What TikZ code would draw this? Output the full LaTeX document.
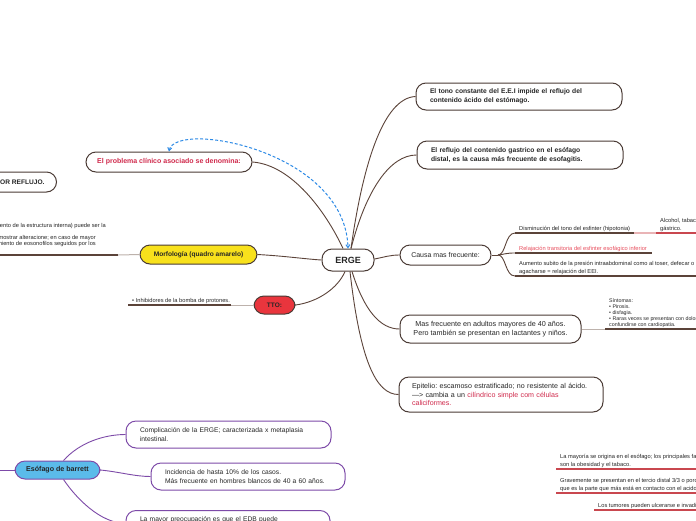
\documentclass[tikz,border=0pt]{standalone}
\usepackage{fontspec}
\setmainfont{Liberation Sans}
\usetikzlibrary{arrows.meta}
\frenchspacing
\definecolor{bord}{HTML}{4A3B35}
\definecolor{cbrown}{HTML}{5B4339}
\definecolor{clight}{HTML}{BDB2AC}
\definecolor{txt}{HTML}{262626}
\definecolor{redt}{HTML}{D02A4C}
\definecolor{pinkt}{HTML}{E8505F}
\definecolor{yel}{HTML}{F8E11C}
\definecolor{ttored}{HTML}{E9353D}
\definecolor{bblue}{HTML}{5BBBEA}
\definecolor{purp}{HTML}{7D4AA8}
\definecolor{ulred}{HTML}{C9474F}
\definecolor{ulpink}{HTML}{E9B4B6}
\definecolor{dashblue}{HTML}{2D8AE6}
\begin{document}
\begin{tikzpicture}[x=1pt,y=-1pt,
  box/.style={draw=bord, line width=1pt, rounded corners=10pt, fill=white, text=txt, inner sep=0pt, align=center},
  lbox/.style={box, align=left},
  conn/.style={draw=cbrown, line width=0.9pt},
  lconn/.style={draw=clight, line width=1pt},
  pconn/.style={draw=purp, line width=0.9pt},
  ul/.style={draw=cbrown, line width=1.5pt},
  ulr/.style={draw=ulred, line width=1.5pt},
  leaf/.style={inner xsep=4pt, inner ysep=1.6pt, text=txt, align=left, font=\fontsize{5.7}{7.1}\selectfont},
  bfont/.style={font=\bfseries\fontsize{6.7}{8.8}\selectfont}
]
\useasboundingbox[fill=white] (0,0) rectangle (696,520);

% ---------- main nodes ----------
\node[box, minimum width=52pt, minimum height=22pt, font=\bfseries\fontsize{9}{10}\selectfont] (erge) at (348,260) {ERGE};

\node[lbox, bfont, minimum width=206pt, minimum height=27pt, text width=178pt, inner xsep=14pt] (tono) at (519,96.5)
  {El tono constante del E.E.I impide el reflujo del\\contenido ácido del estómago.};
\node[lbox, bfont, minimum width=206pt, minimum height=28pt, text width=178pt, inner xsep=14pt] (reflujo) at (520,155)
  {El reflujo del contenido gastrico en el esófago\\distal, es la causa más frecuente de esofagitis.};
\node[box, font=\fontsize{7}{8.5}\selectfont, minimum width=91pt, minimum height=20pt] (causa) at (445.5,255) {Causa mas frecuente:};
\node[box, font=\fontsize{7.2}{8.4}\selectfont, minimum width=181pt, minimum height=28pt] (mas) at (490.5,329)
  {Mas frecuente en adultos mayores de 40 años.\\Pero también se presentan en lactantes y niños.};
\node[lbox, font=\fontsize{7.1}{8.2}\selectfont, minimum width=204pt, minimum height=35pt, text width=178pt, inner xsep=13pt] (epi) at (501,394.5)
  {Epitelio: escamoso estratificado; no resistente al ácido.\\—> cambia a un \textcolor{redt}{cilíndrico simple com células}\\\textcolor{redt}{caliciformes.}};

\node[box, minimum width=166pt, minimum height=20pt, text=redt, font=\bfseries\fontsize{7}{8}\selectfont] (problema) at (169,162)
  {El problema clínico asociado se denomina:};
\node[box, anchor=east, minimum height=20pt, inner xsep=12pt, font=\bfseries\fontsize{6.6}{8}\selectfont] (esof) at (57,182)
  {ESOFAGITIS POR REFLUJO.};
\node[box, fill=yel, minimum width=117pt, minimum height=19pt, font=\bfseries\fontsize{6.6}{8}\selectfont] (morf) at (198.5,254.5)
  {Morfología (quadro amarelo)};
\node[box, fill=ttored, minimum width=41pt, minimum height=18pt, font=\bfseries\fontsize{6.5}{8}\selectfont] (tto) at (274.5,305) {TTO:};

% ---------- ERGE connectors ----------
\draw[conn] (erge.north) ++(3,0) coordinate (et1) .. controls (362,170) and (382,98) .. (tono.west);
\draw[conn] (et1) .. controls (366,190) and (390,155) .. (reflujo.west);
\draw[conn] (erge.east) ++(0,-1) coordinate (ee) .. controls (385,257) and (390,255) .. (causa.west);
\draw[conn] (erge.south) ++(4,0) coordinate (es1) .. controls (364,310) and (380,329) .. (mas.west);
\draw[conn] (erge.south) ++(2,0) coordinate (es2) .. controls (360,360) and (376,394.5) .. (epi.west);
\draw[conn] (problema.east) .. controls (292,165) and (326,212) .. ([xshift=-5pt]erge.north);
\draw[conn] (morf.east) .. controls (285,256) and (305,259) .. (erge.west);
\draw[conn] (tto.east) .. controls (318,302) and (338,288) .. ([xshift=-3pt]erge.south);

\draw[dashblue, line width=1pt, dash pattern=on 3pt off 2pt, {Straight Barb[length=3pt,width=4pt]}-{Straight Barb[length=3pt,width=4pt]}]
  (problema.north) .. controls (175,120) and (345,150) .. (erge.north);

% ---------- Causa children ----------
\coordinate (cj) at (498,255);
\draw[conn] (causa.east) -- (cj);
\node[leaf, anchor=south west] (d1) at (515,233) {Disminución del tono del esfinter (hipotonia)};
\node[leaf, anchor=south west, text=pinkt] (d2) at (515,253) {Relajación transitoria del esfinter esofágico inferior};
\node[leaf, anchor=south west] (d3) at (515,276) {Aumento subito de la presión intraabdominal como al toser, defecar o\\agacharse = relajación del EEI.};
\draw[conn] (cj) .. controls (506,255) and (505,233) .. (d1.south west);
\draw[conn] (cj) .. controls (506,254) and (506,253) .. (d2.south west);
\draw[conn] (cj) .. controls (506,255) and (505,276) .. (d3.south west);
\coordinate (d1e) at (634,233);
\coordinate (d2e) at (652,253);
\coordinate (d3e) at (700,276);
\draw[ul] (d1.south west) -- (d1e);
\draw[ul] (d2.south west) -- (d2e);
\draw[ul] (d3.south west) -- (d3e);
\node[leaf, anchor=south west] (alc) at (656,233) {Alcohol, tabaco y\\gástrico.};
\coordinate (alce) at (700,233);
\draw[draw=ulpink, line width=1.5pt] (d1e) -- (alc.south west);
\draw[ulr] (alc.south west) -- (alce);

% ---------- Mas child ----------
\node[leaf, anchor=south west, font=\fontsize{5.3}{6}\selectfont] (sint) at (605,329)
  {Síntomas:\\• Pirosis.\\• disfagia.\\• Raras veces se presentan con dolor torácico y pueden\\confundirse con cardiopatia.};
\coordinate (sinte) at (700,329);
\draw[lconn] (mas.east) -- (sint.south west);
\draw[ul] (sint.south west) -- (sinte);

% ---------- TTO child ----------
\node[leaf, anchor=south west] (ibp) at (128,305) {• Inhibidores de la bomba de protones.};
\coordinate (ibpe) at (231,305);
\draw[lconn] (tto.west) -- (ibpe);
\draw[ul] (ibp.south west) -- (ibpe);

% ---------- Morfologia child ----------
\coordinate (mj) at (118,255);
\coordinate (mstart) at (-5,255);
\draw[lconn] (morf.west) -- (mj);
\draw[ul] (mj) -- (mstart);
\node[leaf, anchor=base east, inner xsep=0pt] (m1) at (106,227) {rompimiento de la estructura interna) puede ser la};
\node[leaf, anchor=base east, inner xsep=0pt] (m2) at (96,239) {puede no mostrar alteracione; en caso de mayor};
\node[leaf, anchor=base east, inner xsep=0pt] (m3) at (96,245.5) {crecimiento de eosonofilos seguidos por los};

% ---------- Barrett ----------
\node[box, draw=purp, fill=bblue, minimum width=85pt, minimum height=18pt, font=\bfseries\fontsize{7.1}{8}\selectfont] (barrett) at (57.5,470)
  {Esófago de barrett};
\node[lbox, draw=purp, font=\fontsize{6.7}{8.6}\selectfont, minimum width=205pt, minimum height=27pt, text width=177pt, inner xsep=14pt] (b1) at (228.5,434.5)
  {Complicación de la ERGE; caracterizada x metaplasia\\intestinal.};
\node[lbox, draw=purp, font=\fontsize{6.7}{8.6}\selectfont, minimum width=194pt, minimum height=27pt, text width=166pt, inner xsep=14pt] (b2) at (248,476.5)
  {Incidencia de hasta 10\% de los casos.\\Más frecuente en hombres blancos de 40 a 60 años.};
\node[lbox, draw=purp, font=\fontsize{6.7}{8.6}\selectfont, minimum width=204pt, minimum height=26pt, text width=176pt, inner xsep=14pt, anchor=north] (b3) at (228,510)
  {La mayor preocupación es que el EDB puede\\evolucionar a adenocarcinoma.};
\coordinate (bl) at (-5,470);
\draw[pconn] (barrett.west) -- (bl);
\draw[pconn] ([xshift=6pt]barrett.north) .. controls (80,442) and (105,434.5) .. (b1.west);
\draw[pconn] (barrett.east) .. controls (120,472) and (135,476.5) .. (b2.west);
\draw[pconn] ([xshift=6pt]barrett.south) .. controls (76,498) and (100,523) .. (b3.west);

% ---------- bottom right ----------
\node[leaf, anchor=south west] (r1) at (556,469) {La mayoría se origina en el esófago; los principales factores\\son la obesidad y el tabaco.};
\node[leaf, anchor=south west] (r2) at (556,493) {Gravemente se presentan en el tercio distal 3/3 o porción\\que es la parte que más está en contacto con el acido.};
\node[leaf, anchor=south west] (r3) at (594,510) {Los tumores pueden ulcerarse e invadir};
\coordinate (r1e) at (700,469);
\coordinate (r2e) at (700,493);
\coordinate (r3e) at (700,510);
\draw[ulr] (r1.south west) -- (r1e);
\draw[ulr] (r2.south west) -- (r2e);
\draw[ulr] (r3.south west) -- (r3e);
\end{tikzpicture}
\end{document}
